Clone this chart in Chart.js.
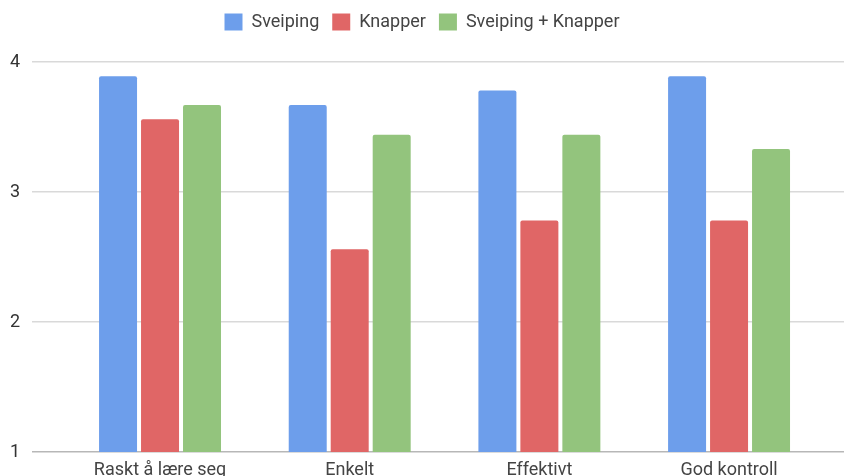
<!DOCTYPE html>
<html>
<head>
<meta charset="utf-8">
<script src="https://cdn.jsdelivr.net/npm/chart.js@4"></script>
<style>
  html, body { margin: 0; padding: 0; background: #fff; overflow: hidden; }
  #wrap { position: relative; width: 844px; height: 484px; }
</style>
</head>
<body>
<div id="wrap"><canvas id="chart"></canvas></div>
<script>
// Chart data
const categories = ["Raskt å lære seg", "Enkelt", "Effektivt", "God kontroll"];
const sveiping = [3.89, 3.67, 3.78, 3.89];
const knapper = [3.56, 2.56, 2.78, 2.78];
const sveipingKnapper = [3.67, 3.44, 3.44, 3.33];
const yTicks = [1, 2, 3, 4];

const toPoints = (values) => values.map((v, i) => ({ x: i, y: v }));

// make the legend take up the space above the plot
const legendSpace = {
  id: "legendSpace",
  beforeInit(chart) {
    const fit = chart.legend.fit;
    chart.legend.fit = function () {
      fit.call(this);
      this.height = 62;
    };
  },
};

Chart.defaults.font.family = "Roboto, Arial, sans-serif";
Chart.defaults.color = "#444";

new Chart(document.getElementById("chart"), {
  type: "bar",
  data: {
    datasets: [
      { label: "Sveiping", data: toPoints(sveiping), backgroundColor: "#6d9eeb" },
      { label: "Knapper", data: toPoints(knapper), backgroundColor: "#e06666" },
      { label: "Sveiping + Knapper", data: toPoints(sveipingKnapper), backgroundColor: "#93c47d" },
    ],
  },
  options: {
    responsive: true,
    maintainAspectRatio: false,
    animation: false,
    layout: { padding: 0 },
    datasets: {
      bar: {
        categoryPercentage: 0.664,
        barPercentage: 0.905,
        borderRadius: 2,
      },
    },
    plugins: {
      legend: {
        position: "top",
        labels: {
          boxWidth: 18,
          boxHeight: 17,
          padding: 13,
          font: { size: 18 },
          color: "#444",
        },
      },
      tooltip: { enabled: false },
    },
    scales: {
      x: {
        type: "linear",
        offset: false,
        min: -0.675,
        max: 3.606,
        grid: { display: false },
        border: { display: false },
        afterBuildTicks: (scale) => {
          scale.ticks = categories.map((c, i) => ({ value: i }));
        },
        afterFit: (scale) => { scale.height = 32; },
        ticks: {
          autoSkip: false,
          maxRotation: 0,
          padding: 0,
          font: { size: 18 },
          color: "#444",
          callback: (value) => categories[value],
        },
      },
      y: {
        min: 1,
        max: 4,
        afterBuildTicks: (scale) => {
          scale.ticks = yTicks.map((v) => ({ value: v }));
        },
        afterFit: (scale) => { scale.width = 32; },
        border: { display: false },
        grid: {
          drawTicks: false,
          color: (ctx) => (ctx.tick && ctx.tick.value === 1 ? "#b7b7b7" : "#d9d9d9"),
          lineWidth: 1.5,
        },
        ticks: {
          padding: 12,
          font: { size: 18 },
          color: "#333",
        },
      },
    },
  },
  plugins: [legendSpace],
});
</script>
</body>
</html>
